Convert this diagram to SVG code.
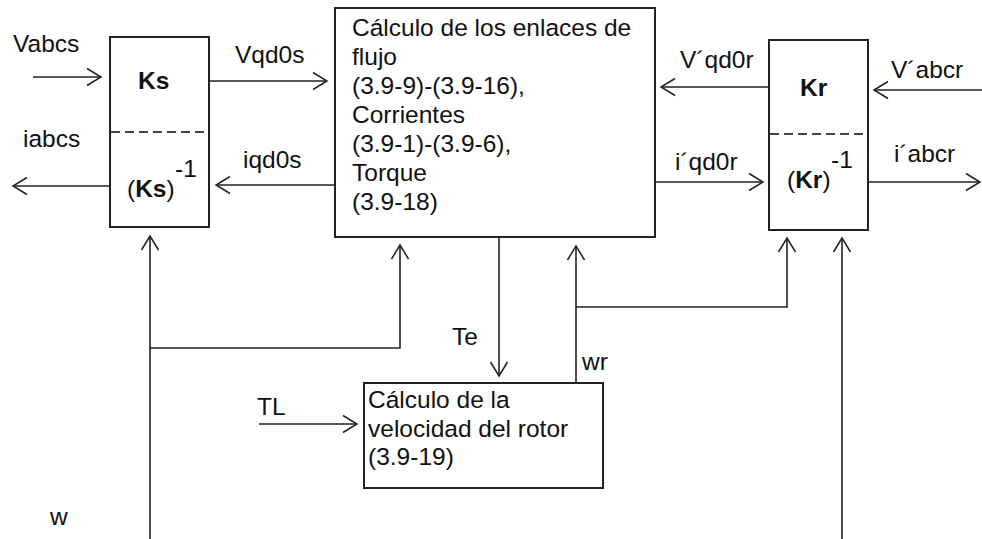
<svg xmlns="http://www.w3.org/2000/svg" width="982" height="539" viewBox="0 0 982 539">
<defs>
<style>
.t{font-family:"Liberation Sans",Arial,sans-serif;font-size:24.5px;fill:#111}
.b{font-weight:bold}
.box{fill:#fff;stroke:#222;stroke-width:2}
.dash{stroke:#444;stroke-width:1.8;stroke-dasharray:9 5}
.ln{fill:none;stroke:#222;stroke-width:1.6;marker-end:url(#ah)}
</style>
<marker id="ah" markerUnits="userSpaceOnUse" markerWidth="18" markerHeight="20" viewBox="0 0 18 20" refX="16" refY="10" orient="auto">
<path d="M2,1.5 L16,10 L2,18.5" fill="none" stroke="#222" stroke-width="1.5"/>
</marker>
</defs>
<rect width="982" height="539" fill="#fff"/>

<g id="connectors">
<path class="ln" d="M33,77 H101"/>
<path class="ln" d="M209,81 H327"/>
<path class="ln" d="M110,186 H13"/>
<path class="ln" d="M335,185 H216"/>
<path class="ln" d="M769,87 H661"/>
<path class="ln" d="M982,90 H874"/>
<path class="ln" d="M655,182 H763"/>
<path class="ln" d="M868,182 H980"/>
<path class="ln" d="M150,539 V236"/>
<path class="ln" d="M150,348 H400 V245"/>
<path class="ln" d="M499,237 V376"/>
<path class="ln" d="M576,383 V246"/>
<path class="ln" d="M576,307 H787 V238"/>
<path class="ln" d="M842,539 V238"/>
<path class="ln" d="M259,424 H357"/>
</g>

<g id="labels">
<text class="t" x="13" y="52">Vabcs</text>
<text class="t" x="235" y="63">Vqd0s</text>
<text class="t" x="23" y="147">iabcs</text>
<text class="t" x="243" y="168">iqd0s</text>
<text class="t" x="680" y="68">V´qd0r</text>
<text class="t" x="891" y="78">V´abcr</text>
<text class="t" x="675" y="170">i´qd0r</text>
<text class="t" x="894" y="162">i´abcr</text>
<text class="t" x="452" y="345">Te</text>
<text class="t" x="582" y="370">wr</text>
<text class="t" x="257" y="415">TL</text>
<text class="t" x="50" y="525">w</text>
</g>

<g id="Ks">
<rect class="box" x="110" y="37" width="99" height="190"/>
<line class="dash" x1="111" y1="132" x2="208" y2="132"/>
<text class="t b" x="138" y="89">Ks</text>
<text class="t" x="127" y="197">(<tspan class="b">Ks</tspan>)</text>
<text class="t" x="175" y="177">-1</text>
</g>

<g id="flux">
<rect class="box" x="335" y="8" width="320" height="229"/>
<text class="t" x="352" y="36">Cálculo de los enlaces de</text>
<text class="t" x="352" y="65">flujo</text>
<text class="t" x="352" y="94">(3.9-9)-(3.9-16),</text>
<text class="t" x="352" y="123">Corrientes</text>
<text class="t" x="352" y="152">(3.9-1)-(3.9-6),</text>
<text class="t" x="352" y="181">Torque</text>
<text class="t" x="352" y="210">(3.9-18)</text>
</g>

<g id="Kr">
<rect class="box" x="769" y="40" width="99" height="190"/>
<line class="dash" x1="770" y1="134" x2="867" y2="134"/>
<text class="t b" x="800" y="96">Kr</text>
<text class="t" x="787" y="188">(<tspan class="b">Kr</tspan>)</text>
<text class="t" x="831" y="168">-1</text>
</g>

<g id="speed">
<rect class="box" x="364" y="383" width="239" height="105"/>
<text class="t" x="368" y="408">Cálculo de la</text>
<text class="t" x="368" y="437">velocidad del rotor</text>
<text class="t" x="368" y="465">(3.9-19)</text>
</g>
</svg>
